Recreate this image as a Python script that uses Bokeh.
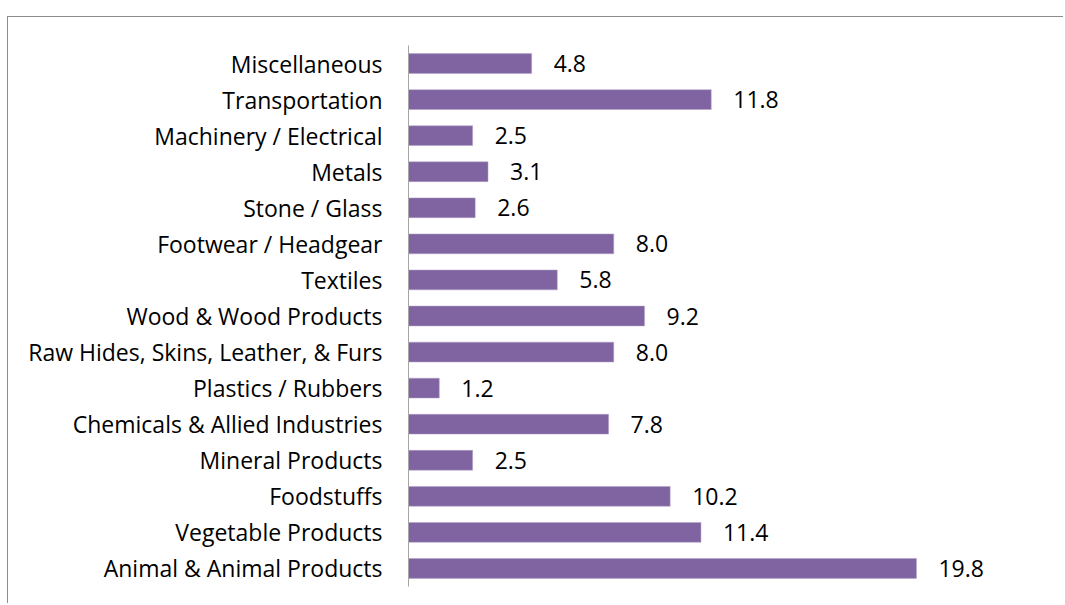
from bokeh.plotting import figure
from bokeh.models import Range1d, ColumnDataSource
from bokeh.core.properties import value
from bokeh.embed import file_html
from bokeh.resources import INLINE

categories = [
    "Animal & Animal Products", "Vegetable Products", "Foodstuffs", "Mineral Products",
    "Chemicals & Allied Industries", "Plastics / Rubbers", "Raw Hides, Skins, Leather, & Furs",
    "Wood & Wood Products", "Textiles", "Footwear / Headgear", "Stone / Glass", "Metals",
    "Machinery / Electrical", "Transportation", "Miscellaneous",
]
values = [19.8, 11.4, 10.2, 2.5, 7.8, 1.2, 8.0, 9.2, 5.8, 8.0, 2.6, 3.1, 2.5, 11.8, 4.8]
labels = [f"{v:.1f}" for v in values]

FONT = "Open Sans"
FS = "23px"

src = ColumnDataSource(dict(cat=categories, val=values, lab=labels))

# frame: page x 408 -> ~1056, y 45 -> 586
p = figure(width=1056, height=587, y_range=categories, x_range=Range1d(0, 25.57),
           output_backend="svg", toolbar_location=None,
           min_border_left=400, min_border_top=28, min_border_bottom=18, min_border_right=0)
p.styles = {"margin-left": "7px", "margin-top": "16px",
            "border-left": "1px solid #8c8c8c", "border-top": "1px solid #8c8c8c"}
p.outline_line_color = None
p.grid.visible = False
p.xaxis.visible = False
p.yaxis.axis_line_color = "#a6a6a6"
p.yaxis.major_tick_line_color = None
p.yaxis.minor_tick_line_color = None
p.yaxis.major_tick_out = 0
p.yaxis.major_label_standoff = 26
p.yaxis.major_label_text_font = FONT
p.yaxis.major_label_text_font_size = FS
p.yaxis.major_label_text_color = "#000000"
p.y_range.range_padding = 0

p.hbar(y="cat", right="val", left=0, height=0.55, source=src,
       fill_color="#8064A2", line_color="#b3a2c7", line_width=0.5)
p.text(x="val", y="cat", text="lab", source=src, x_offset=22,
       text_font=value(FONT), text_font_size=FS, text_baseline="middle",
       text_color="#000000")

open("out.html", "w").write(file_html(p, INLINE))
